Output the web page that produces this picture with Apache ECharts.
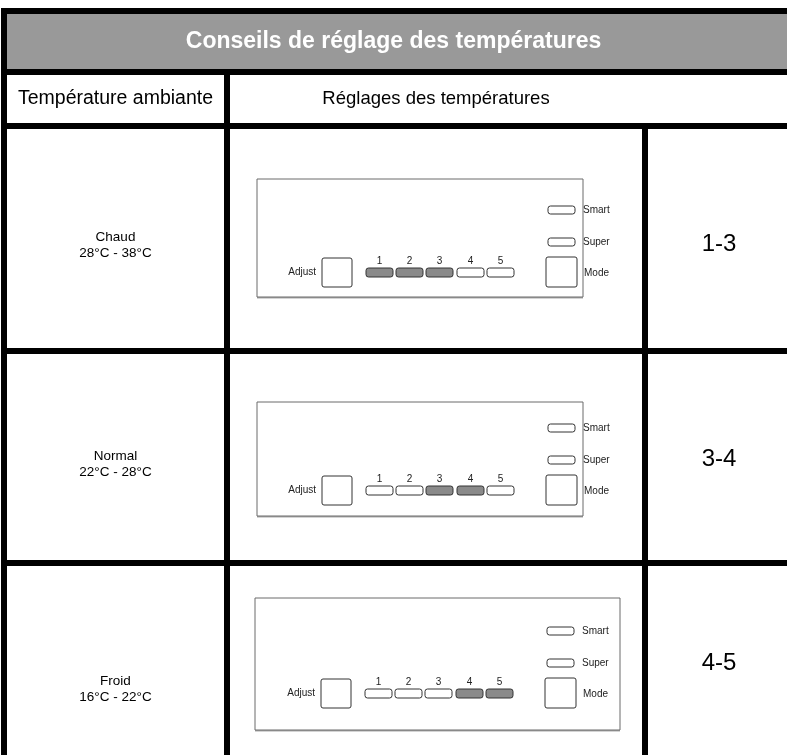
<!DOCTYPE html>
<html>
<head>
<meta charset="utf-8">
<script src="https://cdn.jsdelivr.net/npm/echarts@6/dist/echarts.min.js"></script>
<style>html,body{margin:0;padding:0;background:#fff;}#main{width:787px;height:755px;}</style>
</head>
<body>
<div id="main"></div>
<script>
// ---- data ----
const titleText = 'Conseils de réglage des températures';
const headerLeft = 'Température ambiante';
const headerRight = 'Réglages des températures';
const ambiance = ['Chaud', 'Normal', 'Froid'];
const tempRanges = ['28°C - 38°C', '22°C - 28°C', '16°C - 22°C'];
const settingLabels = ['1-3', '3-4', '4-5'];
const activeFrom = [1, 3, 4];
const activeTo = [3, 4, 5];
const levels = ['1', '2', '3', '4', '5'];
const indicatorLabels = ['Smart', 'Super'];
const buttonLabels = ['Adjust', 'Mode'];

// ---- layout (pixel space of the hidden axes) ----
const W = 787, H = 755;
const B = 6;                               // border thickness
const colLines = [1, 224, 642, 800];       // left edge of vertical borders
const rowLines = [8, 69, 123, 348, 560, 800];   // top edge of horizontal borders
const panelBoxes = [
  { x: 257, y: 179, w: 326, h: 118, ox: 257, oy: 179 },
  { x: 257, y: 402, w: 326, h: 114, ox: 257, oy: 397 },
  { x: 255, y: 598, w: 365, h: 132, ox: 256, oy: 600 }
];
const labelY = [[237, 253], [456, 472], [681, 697]];
const settingY = [244, 459, 663];
const settingX = 719;
// panel internals relative to the panel origin
const ledX = [109, 139, 169, 200, 230], ledW = 27, ledY = 89, ledH = 9;
const indX = 291, indW = 27, indY = [27, 59], indH = 8;
const btnAdjust = { x: 65, y: 79, w: 30, h: 29 };
const btnMode = { x: 289, y: 78, w: 31, h: 30 };

const LINE = '#333';
const ACTIVE = '#8a8a8a';
const FONT = '"Liberation Sans", Arial, Helvetica, sans-serif';

function makeRect(api, x, y, w, h, style, r) {
  const p0 = api.coord([x, y]);
  const p1 = api.coord([x + w, y + h]);
  const shape = { x: p0[0], y: p0[1], width: p1[0] - p0[0], height: p1[1] - p0[1] };
  if (r) shape.r = r;
  return { type: 'rect', shape: shape, style: style };
}
function makeText(api, x, y, text, font, align, fill) {
  const p = api.coord([x, y]);
  return { type: 'text', style: { text: text, x: p[0], y: p[1], font: font, align: align || 'center', verticalAlign: 'middle', fill: fill || '#000' } };
}

function renderFrame(params, api) {
  const ch = [];
  ch.push(makeRect(api, colLines[0], rowLines[0], 900, rowLines[1] - rowLines[0], { fill: '#999999' }));
  for (let i = 0; i < 5; i++) {
    ch.push(makeRect(api, colLines[0], rowLines[i], 900, B, { fill: '#000' }));
  }
  ch.push(makeRect(api, colLines[0], rowLines[0], B, 900, { fill: '#000' }));
  ch.push(makeRect(api, colLines[1], rowLines[1], B, 900, { fill: '#000' }));
  ch.push(makeRect(api, colLines[2], rowLines[2], B, 900, { fill: '#000' }));
  ch.push(makeText(api, W / 2, (rowLines[0] + B + rowLines[1]) / 2, titleText, 'bold 23px ' + FONT, 'center', '#fff'));
  const y2 = (rowLines[1] + B + rowLines[2]) / 2;
  ch.push(makeText(api, (colLines[0] + B + colLines[1]) / 2, y2, headerLeft, '19.5px ' + FONT));
  ch.push(makeText(api, (colLines[1] + B + colLines[2]) / 2, y2, headerRight, '18.5px ' + FONT));
  return { type: 'group', children: ch };
}

function renderRow(params, api) {
  const i = params.dataIndex;
  const ch = [];
  const cx = (colLines[0] + B + colLines[1]) / 2;
  ch.push(makeText(api, cx, labelY[i][0], ambiance[i], '13.5px ' + FONT));
  ch.push(makeText(api, cx, labelY[i][1], tempRanges[i], '13.5px ' + FONT));
  ch.push(makeText(api, settingX, settingY[i], settingLabels[i], '24px ' + FONT));
  const pb = panelBoxes[i];
  const X = v => pb.ox + v, Y = v => pb.oy + v;
  ch.push(makeRect(api, pb.x, pb.y + 1.5, pb.w, pb.h, { fill: '#a9a9a9' }));
  ch.push(makeRect(api, pb.x, pb.y, pb.w, pb.h, { fill: '#fff', stroke: '#6a6a6a', lineWidth: 1 }));
  const sf = '10px ' + FONT;
  for (let k = 0; k < indicatorLabels.length; k++) {
    ch.push(makeRect(api, X(indX), Y(indY[k]), indW, indH, { fill: '#fff', stroke: LINE, lineWidth: 1 }, 2.5));
    ch.push(makeText(api, X(indX + indW + 8), Y(indY[k] + indH / 2), indicatorLabels[k], sf, 'left', '#222'));
  }
  ch.push(makeRect(api, X(btnAdjust.x), Y(btnAdjust.y), btnAdjust.w, btnAdjust.h, { fill: '#fff', stroke: LINE, lineWidth: 1 }, 2));
  ch.push(makeText(api, X(btnAdjust.x - 6), Y(btnAdjust.y + btnAdjust.h / 2), buttonLabels[0], sf, 'right', '#222'));
  ch.push(makeRect(api, X(btnMode.x), Y(btnMode.y), btnMode.w, btnMode.h, { fill: '#fff', stroke: LINE, lineWidth: 1 }, 2));
  ch.push(makeText(api, X(btnMode.x + btnMode.w + 7), Y(btnMode.y + btnMode.h / 2 + 1), buttonLabels[1], sf, 'left', '#222'));
  for (let k = 0; k < levels.length; k++) {
    const lvl = k + 1;
    const on = lvl >= activeFrom[i] && lvl <= activeTo[i];
    ch.push(makeRect(api, X(ledX[k]), Y(ledY), ledW, ledH, { fill: on ? ACTIVE : '#fff', stroke: LINE, lineWidth: 1 }, 2.5));
    ch.push(makeText(api, X(ledX[k] + ledW / 2), Y(ledY - 6.5), levels[k], sf, 'center', '#222'));
  }
  return { type: 'group', children: ch };
}

const chart = echarts.init(document.getElementById('main'), null, { renderer: 'canvas' });
chart.setOption({
  animation: false,
  backgroundColor: '#fff',
  grid: { left: 0, top: 0, width: W, height: H },
  xAxis: { type: 'value', min: 0, max: W, show: false },
  yAxis: { type: 'value', min: 0, max: H, inverse: true, show: false },
  series: [
    { type: 'custom', name: 'frame', data: [[0, 0]], renderItem: renderFrame, silent: true },
    { type: 'custom', name: 'rows', data: ambiance.map((a, i) => [i, i]), renderItem: renderRow, silent: true }
  ]
});
</script>
</body>
</html>
